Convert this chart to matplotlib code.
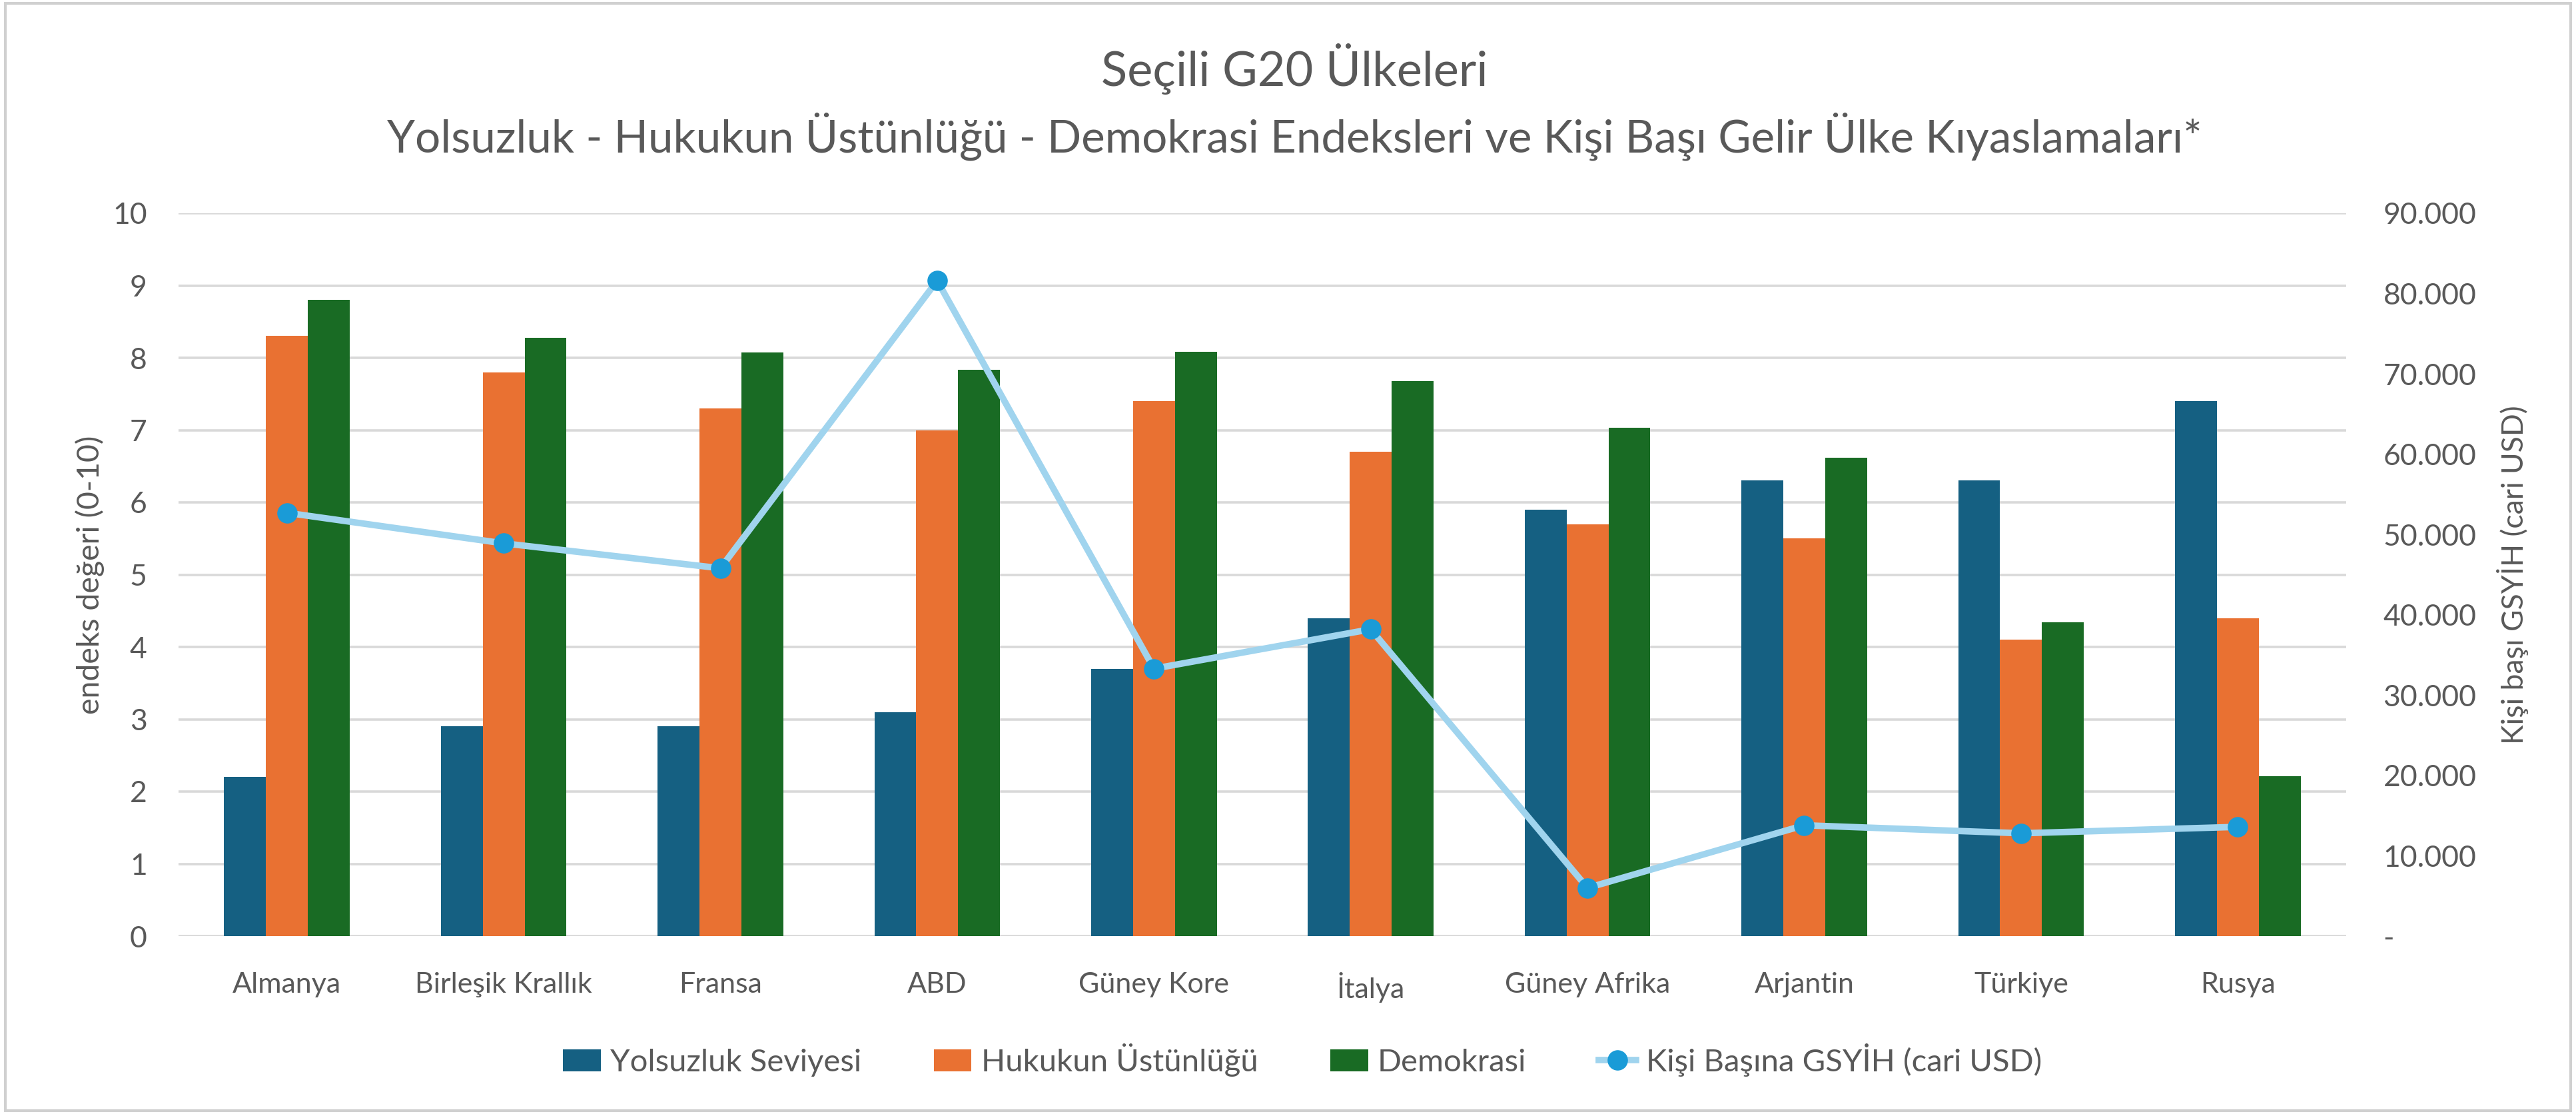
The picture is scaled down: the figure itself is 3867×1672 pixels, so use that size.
import matplotlib
matplotlib.use("Agg")
import matplotlib.pyplot as plt
import numpy as np
from matplotlib.ticker import FuncFormatter, MultipleLocator
from matplotlib.patches import Rectangle

plt.rcParams['font.family'] = ['Lato', 'DejaVu Sans']

countries = ["Almanya", "Birleşik Krallık", "Fransa", "ABD", "Güney Kore",
             "İtalya", "Güney Afrika", "Arjantin", "Türkiye", "Rusya"]
yolsuzluk = [2.2, 2.9, 2.9, 3.1, 3.7, 4.4, 5.9, 6.3, 6.3, 7.4]
hukuk = [8.3, 7.8, 7.3, 7.0, 7.4, 6.7, 5.7, 5.5, 4.1, 4.4]
demokrasi = [8.8, 8.28, 8.07, 7.83, 8.08, 7.68, 7.03, 6.62, 4.34, 2.21]
gsyih = [52700, 48900, 45800, 81600, 33300, 38200, 6000, 13800, 12800, 13600]

series_names = ["Yolsuzluk Seviyesi", "Hukukun Üstünlüğü", "Demokrasi",
                "Kişi Başına GSYİH (cari USD)"]
title_lines = ["Seçili G20 Ülkeleri",
               "Yolsuzluk - Hukukun Üstünlüğü - Demokrasi Endeksleri ve Kişi Başı Gelir Ülke Kıyaslamaları*"]
left_label = "endeks değeri (0-10)"
right_label = "Kişi başı GSYİH (cari USD)"

C_BLUE = "#156082"
C_ORANGE = "#E97132"
C_GREEN = "#196B24"
C_LINE = "#A0D4EE"
C_MARK = "#1A9BD7"
TXT = "#595959"
GRID = "#D9D9D9"

W, H = 3867, 1672
fig = plt.figure(figsize=(W / 100, H / 100), dpi=100)
fig.patch.set_facecolor("white")

ax = fig.add_axes([268 / W, 1 - 1405 / H, (3522 - 268) / W, (1405 - 320) / H])
x = np.arange(len(countries))
bw = 0.193
b1 = ax.bar(x - bw, yolsuzluk, bw, color=C_BLUE, label=series_names[0], zorder=3)
b2 = ax.bar(x, hukuk, bw, color=C_ORANGE, label=series_names[1], zorder=3)
b3 = ax.bar(x + bw, demokrasi, bw, color=C_GREEN, label=series_names[2], zorder=3)

ax.set_xlim(-0.5, len(countries) - 0.5)
ax.set_ylim(0, 10)
ax.yaxis.set_major_locator(MultipleLocator(1))
ax.grid(axis="y", color=GRID, linewidth=2.6, zorder=0)
ax.set_axisbelow(True)
for s in ax.spines.values():
    s.set_visible(False)
ax.set_xticks(x)
ax.set_xticklabels(countries)
ax.tick_params(axis="x", length=0, pad=39, labelsize=31, labelcolor=TXT)
ax.tick_params(axis="y", length=0, pad=34, labelsize=32, labelcolor=TXT)
ax.set_ylabel(left_label, fontsize=33.5, color=TXT)
ax.yaxis.set_label_coords(-0.034, 0.5)

ax2 = ax.twinx()
ln, = ax2.plot(x, gsyih, color=C_LINE, linewidth=7, marker="o", markersize=21,
               markerfacecolor=C_MARK, markeredgecolor=C_MARK, label=series_names[3],
               zorder=5, solid_joinstyle="round")
ax2.set_ylim(0, 90000)
ax2.yaxis.set_major_locator(MultipleLocator(10000))
ax2.yaxis.set_major_formatter(FuncFormatter(
    lambda v, p: "-" if abs(v) < 1e-9 else f"{int(round(v)):,}".replace(",", ".")))
for s in ax2.spines.values():
    s.set_visible(False)
ax2.tick_params(axis="y", length=0, pad=40, labelsize=32, labelcolor=TXT)
ax2.set_ylabel(right_label, fontsize=32, color=TXT, rotation=90)
ax2.yaxis.set_label_coords(1.0695, 0.5)

fig.text(1943 / W, 1 - 104 / H, title_lines[0], ha="center", va="center",
         fontsize=52, color=TXT)
fig.text(1943 / W, 1 - 205 / H, title_lines[1], ha="center", va="center",
         fontsize=48.5, color=TXT)

leg = fig.legend([b1, b2, b3, ln], series_names, loc="center",
                 bbox_to_anchor=(1955 / W, 1 - 1591 / H), ncol=4, frameon=False,
                 fontsize=34, handlelength=1.2, handleheight=0.7,
                 handletextpad=0.3, columnspacing=2.3, labelcolor=TXT)

fig.add_artist(Rectangle((0.002, 0.003), 0.996, 0.994, transform=fig.transFigure,
                         fill=False, edgecolor="#D0D0D0", linewidth=3))

fig.savefig("out.png", dpi=100, facecolor="white")
